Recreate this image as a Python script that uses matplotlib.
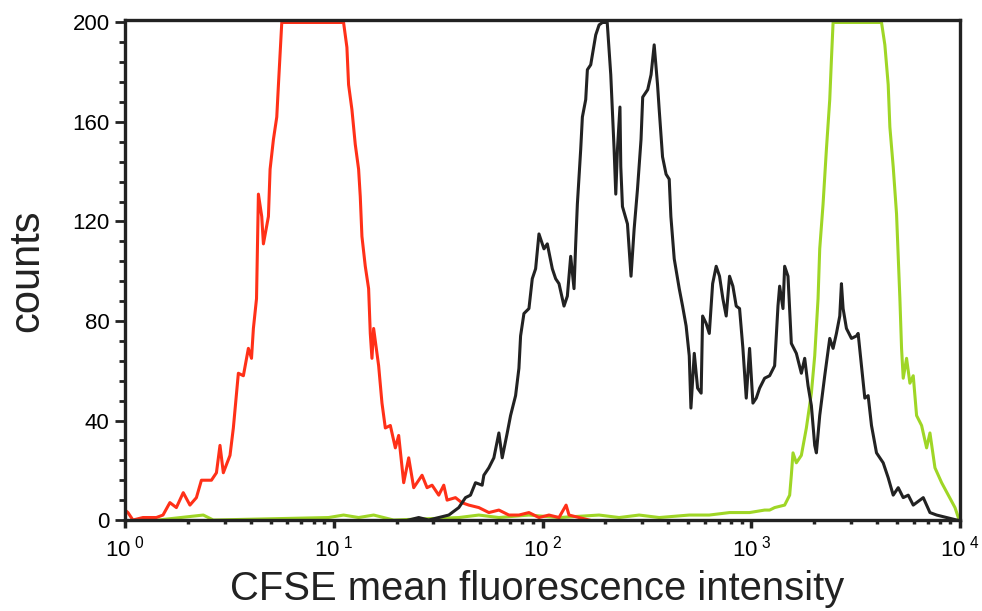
import matplotlib
matplotlib.use('Agg')
import matplotlib.pyplot as plt
import numpy as np
from matplotlib.ticker import FixedLocator, LogLocator, MultipleLocator, NullFormatter

plt.rcParams['font.family'] = ['Liberation Sans', 'DejaVu Sans']
plt.rcParams['mathtext.fontset'] = 'custom'
plt.rcParams['mathtext.rm'] = 'Liberation Sans'

red_log = [0.0, 0.014, 0.038, 0.086, 0.150, 0.182, 0.215, 0.246, 0.279, 0.311,
           0.342, 0.366, 0.414, 0.438, 0.455, 0.471, 0.503, 0.519, 0.543, 0.567,
           0.591, 0.606, 0.615, 0.630, 0.639, 0.655, 0.663, 0.687, 0.695, 0.711,
           0.727, 0.735, 0.751, 1.047, 1.063, 1.071, 1.087, 1.103, 1.119, 1.127,
           1.135, 1.151, 1.167, 1.175, 1.183, 1.191, 1.215, 1.231, 1.247, 1.271,
           1.295, 1.311, 1.335, 1.359, 1.383, 1.423, 1.447, 1.471, 1.503, 1.527,
           1.543, 1.583, 1.613, 1.647, 1.695, 1.743, 1.791, 1.839, 1.887, 1.935,
           1.983, 2.031, 2.079, 2.113, 2.127, 2.175, 2.223]
red_counts = [4, 3, 0, 1, 1, 2, 7, 5, 11, 6,
              9, 16, 16, 19, 30, 19, 26, 37, 59, 58,
              69, 65, 77, 89, 131, 122, 111, 122, 141, 153,
              162, 175, 200, 200, 190, 175, 165, 151, 141, 130,
              114, 102, 93, 75, 65, 77, 62, 47, 37, 38,
              29, 34, 15, 25, 13, 18, 13, 14, 10, 14,
              8, 9, 7, 6, 5, 3, 4, 2, 2, 3,
              1, 2, 1, 6, 2, 1, 0]

black_log = [1.359, 1.407, 1.455, 1.503, 1.551, 1.599, 1.631, 1.655, 1.679, 1.711,
             1.719, 1.743, 1.767, 1.791, 1.807, 1.831, 1.847, 1.871, 1.887, 1.895,
             1.911, 1.935, 1.951, 1.967, 1.983, 2.007, 2.023, 2.047, 2.063, 2.079,
             2.103, 2.119, 2.135, 2.151, 2.159, 2.167, 2.183, 2.191, 2.207, 2.215,
             2.231, 2.239, 2.255, 2.271, 2.287, 2.310, 2.327, 2.343, 2.351, 2.359,
             2.371, 2.375, 2.383, 2.407, 2.424, 2.439, 2.455, 2.472, 2.480, 2.504,
             2.520, 2.535, 2.551, 2.559, 2.575, 2.592, 2.607, 2.615, 2.631, 2.655,
             2.671, 2.688, 2.703, 2.711, 2.727, 2.743, 2.760, 2.767, 2.784, 2.799,
             2.815, 2.832, 2.848, 2.864, 2.880, 2.896, 2.912, 2.928, 2.944, 2.960,
             2.976, 2.992, 3.008, 3.024, 3.040, 3.064, 3.088, 3.112, 3.128, 3.136,
             3.152, 3.160, 3.176, 3.192, 3.216, 3.240, 3.256, 3.272, 3.288, 3.304,
             3.312, 3.328, 3.352, 3.376, 3.392, 3.408, 3.424, 3.432, 3.440, 3.456,
             3.480, 3.504, 3.512, 3.528, 3.544, 3.560, 3.576, 3.600, 3.632, 3.656,
             3.680, 3.704, 3.728, 3.752, 3.776, 3.824, 3.856, 3.888, 3.936, 3.984]
black_counts = [0, 1, 0, 1, 2, 5, 9, 10, 15, 14,
                18, 21, 25, 35, 25, 35, 42, 50, 61, 74,
                83, 85, 97, 101, 115, 109, 111, 101, 97, 95,
                86, 90, 106, 93, 111, 127, 149, 162, 169, 181,
                183, 187, 195, 199, 200, 200, 179, 149, 131, 149,
                166, 142, 126, 119, 98, 117, 133, 153, 170, 173,
                179, 191, 175, 165, 146, 139, 137, 122, 105, 93,
                86, 78, 66, 45, 67, 53, 51, 82, 79, 75,
                95, 102, 98, 89, 82, 98, 94, 86, 85, 69,
                49, 69, 47, 49, 53, 57, 58, 62, 86, 94,
                85, 102, 98, 71, 67, 59, 65, 54, 46, 30,
                27, 42, 58, 73, 69, 75, 82, 95, 85, 77,
                73, 74, 75, 62, 49, 50, 38, 27, 23, 17,
                10, 13, 9, 10, 6, 9, 3, 2, 1, 0]

green_log = [0.158, 0.375, 0.423, 0.975, 1.047, 1.119, 1.191, 1.287, 1.599, 1.695,
             1.791, 1.935, 2.079, 2.271, 2.367, 2.463, 2.559, 2.703, 2.799, 2.896,
             2.992, 3.064, 3.088, 3.112, 3.160, 3.184, 3.192, 3.200, 3.216, 3.240,
             3.264, 3.288, 3.304, 3.320, 3.328, 3.344, 3.360, 3.376, 3.384, 3.392,
             3.624, 3.640, 3.656, 3.664, 3.680, 3.696, 3.704, 3.712, 3.720, 3.728,
             3.744, 3.760, 3.776, 3.792, 3.816, 3.840, 3.856, 3.880, 3.912, 3.944,
             3.976, 3.992]
green_counts = [0, 2, 0, 1, 2, 1, 2, 0, 1, 2,
                1, 2, 1, 2, 1, 2, 1, 2, 2, 3,
                3, 4, 4, 5, 6, 10, 18, 27, 23, 26,
                37, 51, 66, 89, 109, 127, 149, 169, 185, 200,
                200, 191, 175, 158, 142, 123, 106, 89, 69, 57,
                65, 55, 58, 42, 38, 29, 35, 21, 15, 10,
                5, 1]

decades = [1, 10, 100, 1000, 10000]
decade_labels = [r'$\mathregular{10^{\;0}}$', r'$\mathregular{10^{\;1}}$',
                 r'$\mathregular{10^{\;2}}$', r'$\mathregular{10^{\;3}}$',
                 r'$\mathregular{10^{\;4}}$']
count_ticks = [0, 40, 80, 120, 160, 200]

fig = plt.figure(figsize=(9.82, 6.11), dpi=100)
ax = fig.add_axes([0.1273, 0.1489, 0.8503, 0.8184])

ax.plot(10 ** np.array(green_log), green_counts, color='#9fd626', lw=2.2)
ax.plot(10 ** np.array(red_log), red_counts, color='#ff3018', lw=2.2)
ax.plot(10 ** np.array(black_log), black_counts, color='#222222', lw=2.2)

ax.set_xscale('log')
ax.set_xlim(1, 10000)
ax.set_ylim(0, 201)

ax.xaxis.set_major_locator(FixedLocator(decades))
ax.set_xticklabels(decade_labels)
ax.xaxis.set_minor_locator(LogLocator(base=10, subs=np.arange(2, 10)))
ax.xaxis.set_minor_formatter(NullFormatter())
ax.set_yticks(count_ticks)
ax.yaxis.set_minor_locator(MultipleLocator(8))

for s in ax.spines.values():
    s.set_linewidth(2.4)
    s.set_color('#222222')

ax.tick_params(axis='y', which='major', direction='out', length=7, width=2,
               labelsize=16, pad=4, color='#222222')
ax.tick_params(axis='y', which='minor', direction='out', length=4, width=2,
               color='#222222')
ax.tick_params(axis='x', which='major', direction='out', length=6, width=2.5,
               labelsize=16, pad=5, color='#222222')
ax.tick_params(axis='x', which='minor', direction='out', length=3, width=2.5,
               color='#222222')

fig.text(27 / 982, 1 - 271 / 611, 'counts', rotation=90, ha='center',
         va='center', fontsize=30, color='#222222')
fig.text(537 / 982, 1 - 600 / 611, 'CFSE mean fluorescence intensity',
         ha='center', va='baseline', fontsize=28.8, color='#222222')

fig.savefig('out.png', dpi=100)
